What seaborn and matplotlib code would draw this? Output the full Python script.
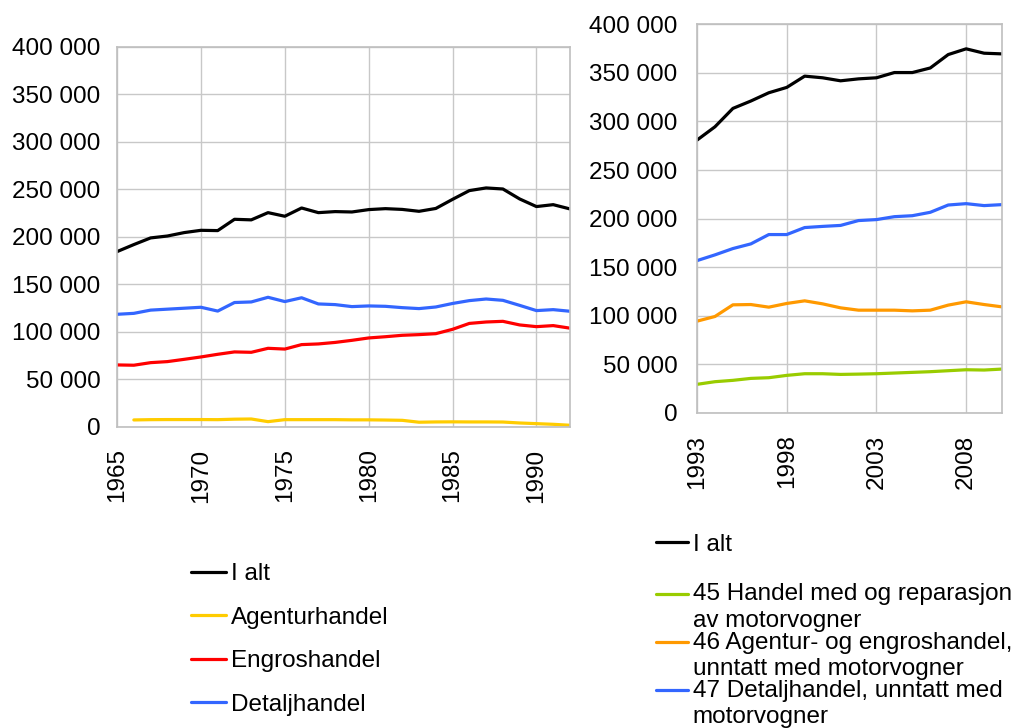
import pandas as pd
import seaborn as sns
from matplotlib import pyplot as plt
from matplotlib.ticker import FuncFormatter
from matplotlib.legend_handler import HandlerLine2D

# left panel, 1965-1992
years_old = list(range(1965, 1993))
i_alt_old = [184600, 192000, 199000, 201000, 204600, 207000, 206700, 218600, 218000, 225600,
             221800, 230500, 225600, 226700, 226300, 228800, 229800, 229000, 227000, 230000,
             239600, 248800, 251600, 250500, 240000, 232000, 234000, 229500]
agentur_old = [None, 7400, 7700, 7800, 7800, 7800, 7700, 8200, 8400, 5600,
               7700, 7700, 7700, 7700, 7500, 7500, 7300, 7000, 5000, 5300,
               5400, 5300, 5300, 5200, 4200, 3500, 2800, 1800]
engros_old = [65300, 65000, 67700, 68800, 71200, 73700, 76500, 79000, 78600, 82800,
              82000, 86700, 87400, 89000, 91200, 93700, 95000, 96500, 97200, 98200,
              102800, 109000, 110500, 111200, 107400, 105600, 106700, 104000]
detalj_old = [118600, 119600, 123000, 124000, 125000, 126000, 122000, 131000, 131600, 136500,
              132000, 136000, 129500, 128800, 126700, 127400, 127000, 125600, 124600, 126300,
              130000, 133000, 134700, 133300, 128000, 122500, 123500, 121800]

# right panel, 1993-2010
years_new = list(range(1993, 2011))
i_alt_new = [280800, 294500, 313400, 321000, 329500, 335000, 346600, 344900, 341800, 343800,
             344900, 350300, 350300, 355000, 368800, 374700, 370200, 369500]
motor_new = [29500, 32200, 33600, 35600, 36300, 38700, 40400, 40400, 39700, 40000,
             40400, 41100, 41800, 42500, 43500, 44500, 44200, 45200]
engros_new = [94500, 99300, 111300, 111600, 108900, 112700, 115400, 112300, 108200, 105800,
              105800, 105800, 105100, 105800, 111000, 114400, 111600, 109200]
detalj_new = [156800, 162700, 169200, 174000, 183600, 183600, 190800, 192000, 193000, 198000,
              199000, 202000, 203000, 206500, 214000, 215400, 213400, 214400]

labels_old = ['I alt', 'Agenturhandel', 'Engroshandel', 'Detaljhandel']
labels_new = ['I alt', '45 Handel med og reparasjon\nav motorvogner',
              '46 Agentur- og engroshandel,\nunntatt med motorvogner',
              '47 Detaljhandel, unntatt med\nmotorvogner']
colors_old = ['#000000', '#FFCC00', '#FF0000', '#3366FF']
colors_new = ['#000000', '#99CC00', '#FF9900', '#3366FF']

FS = 17.5


class FirstLineHandler(HandlerLine2D):
    # put the legend line next to the first text line instead of the middle
    def create_artists(self, legend, orig_handle, xdescent, ydescent, width, height, fontsize, trans):
        arts = super().create_artists(legend, orig_handle, xdescent, ydescent, width, height, fontsize, trans)
        for a in arts:
            a.set_ydata([y + 10 for y in a.get_ydata()])
        return arts


def long_table(years, series, labels):
    frames = []
    for values, label in zip(series, labels):
        frames.append(pd.DataFrame({'year': years, 'value': values, 'serie': label}))
    return pd.concat(frames, ignore_index=True)


def style_axis(ax, xmin, xmax, xticks, ypad):
    ax.set_xlim(xmin, xmax)
    ax.set_ylim(0, 400000)
    ax.set_xticks(xticks)
    ax.set_yticks(range(0, 400001, 50000))
    ax.yaxis.set_major_formatter(FuncFormatter(lambda v, p: f'{int(v):,}'.replace(',', ' ')))
    ax.tick_params(axis='x', labelrotation=90, length=0, pad=15.5, labelsize=FS, labelcolor='black')
    ax.tick_params(axis='y', length=0, pad=ypad, labelsize=FS, labelcolor='black')
    ax.grid(True, color='#c8c8c8', linewidth=1)
    for s in ax.spines.values():
        s.set_color('#bfbfbf')
        s.set_linewidth(1.2)
    ax.set_xlabel('')
    ax.set_ylabel('')


sns.set_style('white')
plt.rcParams['font.family'] = ['Liberation Sans', 'DejaVu Sans']
plt.rcParams['text.color'] = 'black'

fig = plt.figure(figsize=(10.27, 7.28), dpi=100)
ax1 = fig.add_axes([0.114, 0.4135, 0.441, 0.522])
ax2 = fig.add_axes([0.6787, 0.4327, 0.297, 0.534])

df_old = long_table(years_old, [i_alt_old, agentur_old, engros_old, detalj_old], labels_old)
df_new = long_table(years_new, [i_alt_new, motor_new, engros_new, detalj_new], labels_new)

sns.lineplot(data=df_old, x='year', y='value', hue='serie', hue_order=labels_old,
             palette=colors_old, linewidth=2.3, ax=ax1, legend=False)
sns.lineplot(data=df_new, x='year', y='value', hue='serie', hue_order=labels_new,
             palette=colors_new, linewidth=2.3, ax=ax2, legend=False)

style_axis(ax1, 1965, 1992, list(range(1965, 1991, 5)), 12)
style_axis(ax2, 1993, 2010, [1993, 1998, 2003, 2008], 14)

# legends
h1 = ax1.get_lines()[:4]
leg1 = fig.legend(h1, labels_old, loc='upper left', bbox_to_anchor=(0.186, 0.226),
                  frameon=False, fontsize=FS, handlelength=1.45, handletextpad=0.18,
                  labelspacing=0.88, borderaxespad=0, borderpad=0)

h2 = ax2.get_lines()[:4]
leg_a = fig.legend(h2[:1], labels_new[:1], loc='upper left', bbox_to_anchor=(0.639, 0.2665),
                   frameon=False, fontsize=FS, handlelength=1.3, handletextpad=0.2,
                   borderaxespad=0, borderpad=0)
leg_b = fig.legend(h2[1:], labels_new[1:], loc='upper left', bbox_to_anchor=(0.639, 0.1985),
                   frameon=False, fontsize=FS, handlelength=1.3, handletextpad=0.2,
                   labelspacing=0.0, borderaxespad=0, borderpad=0,
                   handler_map={h: FirstLineHandler() for h in h2[1:]})
for t in leg_b.get_texts():
    t.set_linespacing(1.25)

fig.savefig('out.png', dpi=100)
